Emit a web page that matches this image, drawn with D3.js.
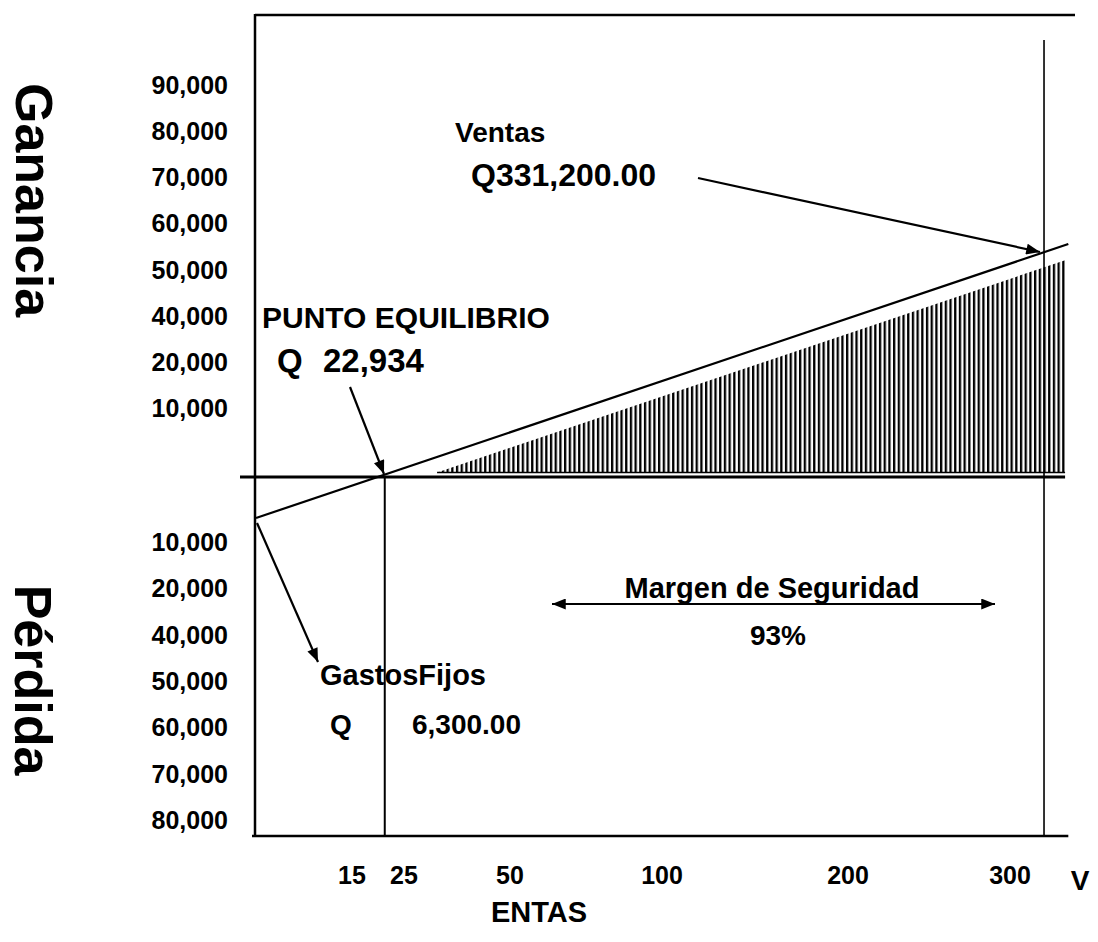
<!DOCTYPE html>
<html><head><meta charset="utf-8">
<script src="https://cdn.jsdelivr.net/npm/d3@7"></script>
<style>
html,body{margin:0;padding:0;background:#fff;}
svg{display:block;}
text{font-family:"Liberation Sans",Arial,sans-serif;font-weight:bold;fill:#000;}
</style></head><body>
<svg id="c" width="1098" height="942"></svg>
<script>
// ---- data ----
const gainLabels = ["90,000","80,000","70,000","60,000","50,000","40,000","20,000","10,000"];
const lossLabels = ["10,000","20,000","40,000","50,000","60,000","70,000","80,000"];
const unitTicks = [15, 25, 50, 100, 200, 300];
const fixedCosts = 6300;
const breakEvenSales = 22934;
const totalSales = 331200;
const safetyMarginPct = 93;
const breakEvenUnits = 21.3;
const salesUnits = 321;
const salesLine = [{u: 0, p: -6300}, {u: 336, p: 35800}];
const profitArea = [{u: 32.8, p: 0}, {u: 334, p: 33300}];

// ---- layout ----
const W = 1098, H = 942;
const frame = {left: 255, top: 15, bottom: 836, right: 1075};
const svg = d3.select("#c");

const x = d3.scaleLinear().domain([0, ...unitTicks]).range([256, 352, 404, 510, 662, 848, 1010]);
const y = d3.scaleLinear().domain([-fixedCosts, 0]).range([518, 477]);
const yGain = d3.scalePoint().domain(gainLabels).range([85, 408]);
const yLoss = d3.scalePoint().domain(lossLabels).range([542, 820]);

const defs = svg.append("defs");
defs.append("marker").attr("id", "ah")
  .attr("viewBox", "0 0 10 8").attr("refX", 10).attr("refY", 4)
  .attr("markerWidth", 15).attr("markerHeight", 11)
  .attr("markerUnits", "userSpaceOnUse").attr("orient", "auto-start-reverse")
  .append("path").attr("d", "M0,0 L10,4 L0,8 Z").attr("fill", "#000");
const pat = defs.append("pattern").attr("id", "hatch")
  .attr("patternUnits", "userSpaceOnUse").attr("width", 4.7).attr("height", 10);
pat.append("rect").attr("x", 0).attr("y", 0).attr("width", 2.3).attr("height", 10).attr("fill", "#000");

// hatched profit region
const y0 = y(0);
const hatchBottom = y0 - 4.5;
const hp = [[x(profitArea[0].u), hatchBottom], [x(profitArea[1].u), y(profitArea[1].p)], [x(profitArea[1].u), hatchBottom]];
svg.append("path").attr("d", "M" + hp.map(d => d.join(",")).join("L") + "Z").attr("fill", "url(#hatch)");
svg.append("line").attr("x1", x(profitArea[0].u)).attr("x2", x(profitArea[1].u))
  .attr("y1", hatchBottom).attr("y2", hatchBottom).attr("stroke", "#000").attr("stroke-width", 1.5);

// frame
const g = svg.append("g").attr("stroke", "#000").attr("fill", "none");
g.append("line").attr("x1", frame.left).attr("x2", frame.left).attr("y1", frame.top - 1).attr("y2", frame.bottom).attr("stroke-width", 2.5);
g.append("line").attr("x1", frame.left).attr("x2", frame.right).attr("y1", frame.top).attr("y2", frame.top).attr("stroke-width", 2.5);
g.append("line").attr("x1", frame.left - 3).attr("x2", x(336)).attr("y1", frame.bottom).attr("y2", frame.bottom).attr("stroke-width", 2.5);
g.append("line").attr("x1", 240).attr("x2", x(profitArea[1].u)).attr("y1", y0).attr("y2", y0).attr("stroke-width", 3);
// break-even vertical
g.append("line").attr("x1", x(breakEvenUnits)).attr("x2", x(breakEvenUnits)).attr("y1", y0).attr("y2", frame.bottom).attr("stroke-width", 2);
// sales vertical
g.append("line").attr("x1", x(salesUnits)).attr("x2", x(salesUnits)).attr("y1", 40).attr("y2", frame.bottom).attr("stroke-width", 1.6);
// sales line
const line = d3.line().x(d => x(d.u)).y(d => y(d.p));
g.append("path").attr("d", line(salesLine)).attr("stroke-width", 2.2);

// arrows (annotations)
const arrows = [
  {x1: 350, y1: 387, x2: 384, y2: 474, both: false},
  {x1: 698, y1: 178, x2: 1040, y2: 252, both: false},
  {x1: 257, y1: 523, x2: 318, y2: 662, both: false},
  {x1: 552, y1: 604, x2: 995, y2: 604, both: true}
];
arrows.forEach(a => {
  const l = g.append("line").attr("x1", a.x1).attr("y1", a.y1).attr("x2", a.x2).attr("y2", a.y2)
    .attr("stroke-width", 2.2).attr("marker-end", "url(#ah)");
  if (a.both) l.attr("marker-start", "url(#ah)");
});

// axis labels
svg.selectAll(".yg").data(gainLabels).join("text")
  .attr("x", 228).attr("y", d => yGain(d)).attr("dy", "0.36em")
  .attr("text-anchor", "end").attr("font-size", 25).text(d => d);
svg.selectAll(".yl").data(lossLabels).join("text")
  .attr("x", 228).attr("y", d => yLoss(d)).attr("dy", "0.36em")
  .attr("text-anchor", "end").attr("font-size", 25).text(d => d);
svg.selectAll(".xt").data(unitTicks).join("text")
  .attr("x", d => x(d)).attr("y", 884).attr("text-anchor", "middle")
  .attr("font-size", 25).text(d => d);

function txt(t, px, py, size, anchor) {
  return svg.append("text").attr("x", px).attr("y", py).attr("font-size", size)
    .attr("text-anchor", anchor || "start").text(t);
}
svg.append("text").attr("transform", "translate(34,200) rotate(90)")
  .attr("text-anchor", "middle").attr("dominant-baseline", "central").attr("font-size", 52).text("Ganancia");
svg.append("text").attr("transform", "translate(33,680) rotate(90)")
  .attr("text-anchor", "middle").attr("dominant-baseline", "central").attr("font-size", 52).text("Pérdida");

const f2 = d3.format(",.2f"), f0 = d3.format(",");
txt("Ventas", 455, 142, 28);
txt("Q" + f2(totalSales), 471, 186, 32);
txt("PUNTO EQUILIBRIO", 262, 328, 30);
txt("Q", 277, 372, 33);
txt(f0(breakEvenSales), 323, 372, 33);
txt("GastosFijos", 320, 685, 29);
txt("Q", 330, 734, 28);
txt(f2(fixedCosts), 412, 734, 28);
txt("Margen de Seguridad", 772, 598, 29, "middle");
txt(safetyMarginPct + "%", 778, 645, 28, "middle");
txt("V", 1080, 890, 28, "middle");
txt("ENTAS", 539, 922, 29, "middle");
</script>
</body></html>
